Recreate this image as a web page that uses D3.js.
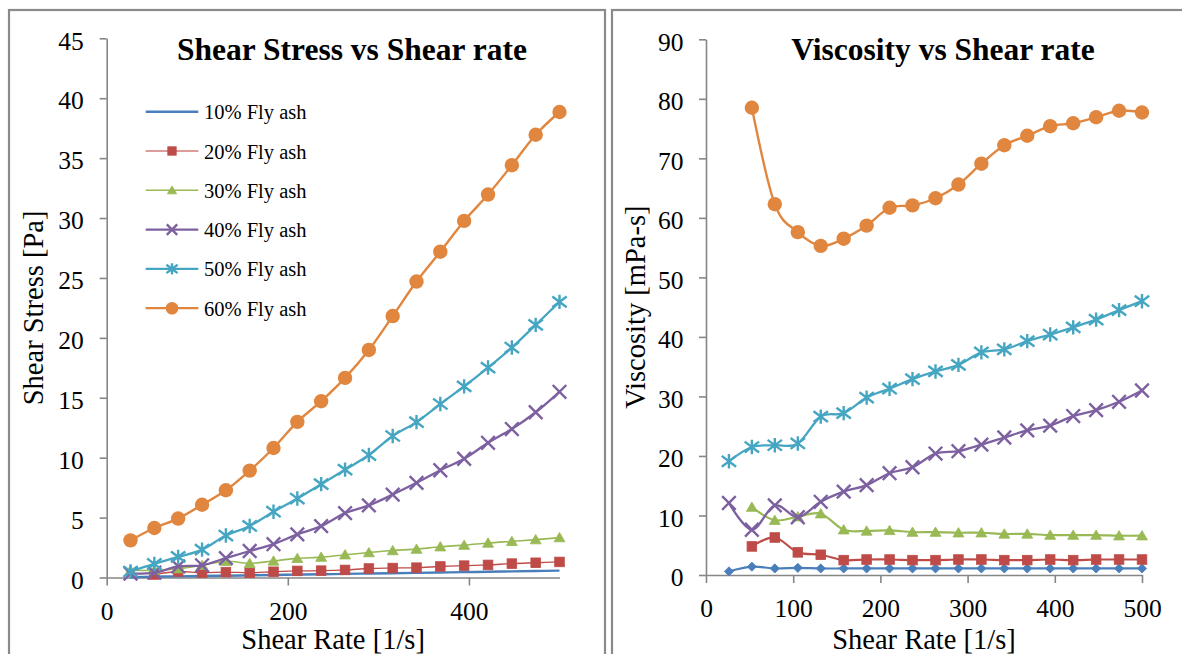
<!DOCTYPE html>
<html>
<head>
<meta charset="utf-8">
<script src="https://cdn.jsdelivr.net/npm/d3@7"></script>
<style>
  body { margin: 0; background: #fff; }
  svg { display: block; }
  svg text { font-family: "Liberation Serif", "Times New Roman", serif; }
</style>
</head>
<body>
<svg id="chart" width="1182" height="654"></svg>
<script>
// Shear rate steps [1/s]
const shearRate = [26.3, 52.6, 78.9, 105.3, 131.6, 157.9, 184.2, 210.5, 236.8, 263.2,
                   289.5, 315.8, 342.1, 368.4, 394.7, 421.1, 447.4, 473.7, 500];

const seriesNames = ["10% Fly ash", "20% Fly ash", "30% Fly ash", "40% Fly ash", "50% Fly ash", "60% Fly ash"];

// Shear stress [Pa]
const stress10 = [0.02, 0.07, 0.09, 0.13, 0.15, 0.18, 0.21, 0.24, 0.27, 0.30, 0.33, 0.36, 0.39, 0.42, 0.45, 0.48, 0.51, 0.54, 0.57];
const stress20 = [null, 0.25, 0.50, 0.40, 0.45, 0.39, 0.48, 0.55, 0.57, 0.63, 0.75, 0.79, 0.82, 0.92, 0.99, 1.05, 1.16, 1.23, 1.30];
const stress30 = [0.60, 0.60, 0.73, 1.02, 1.36, 1.18, 1.38, 1.60, 1.70, 1.90, 2.08, 2.25, 2.37, 2.57, 2.70, 2.88, 3.02, 3.16, 3.33];
const stress40 = [0.32, 0.40, 0.92, 1.02, 1.62, 2.21, 2.78, 3.60, 4.29, 5.37, 6.02, 6.92, 7.90, 8.95, 9.91, 11.24, 12.39, 13.79, 15.50];
const stress50 = [0.50, 1.13, 1.72, 2.33, 3.50, 4.30, 5.49, 6.59, 7.79, 9.00, 10.22, 11.81, 12.97, 14.48, 15.95, 17.52, 19.19, 21.08, 23.00];
const stress60 = [3.10, 4.13, 4.92, 6.07, 7.28, 8.92, 10.81, 12.99, 14.71, 16.66, 18.99, 21.82, 24.70, 27.19, 29.76, 31.96, 34.41, 36.95, 38.85];

// Viscosity [mPa-s]
const visc10 = [0.6, 1.4, 1.1, 1.2, 1.1, 1.1, 1.1, 1.1, 1.1, 1.1, 1.1, 1.1, 1.1, 1.1, 1.1, 1.1, 1.1, 1.1, 1.1];
const visc20 = [null, 4.8, 6.3, 3.8, 3.4, 2.5, 2.6, 2.6, 2.5, 2.5, 2.6, 2.6, 2.5, 2.5, 2.6, 2.5, 2.6, 2.6, 2.6];
const visc30 = [null, 11.4, 9.2, 9.8, 10.3, 7.6, 7.4, 7.5, 7.2, 7.2, 7.1, 7.1, 6.9, 6.9, 6.7, 6.7, 6.7, 6.6, 6.6];
const visc40 = [12.1, 7.6, 11.7, 9.7, 12.3, 14.0, 15.1, 17.1, 18.1, 20.4, 20.8, 21.9, 23.1, 24.3, 25.1, 26.7, 27.7, 29.1, 31.0];
const visc50 = [19.1, 21.5, 21.8, 22.1, 26.6, 27.2, 29.8, 31.3, 32.9, 34.2, 35.3, 37.4, 37.9, 39.3, 40.4, 41.6, 42.9, 44.5, 46.0];
const visc60 = [null, 78.5, 62.3, 57.6, 55.3, 56.5, 58.7, 61.7, 62.1, 63.3, 65.6, 69.1, 72.2, 73.8, 75.4, 75.9, 76.9, 78.0, 77.7];

// Axis ticks
const stressRateTicks = [0, 200, 400];
const stressTicks = [0, 5, 10, 15, 20, 25, 30, 35, 40, 45];
const viscRateTicks = [0, 100, 200, 300, 400, 500];
const viscTicks = [0, 10, 20, 30, 40, 50, 60, 70, 80, 90];

// Series appearance
const colors  = ["#4A7EBB", "#BE4B48", "#98B954", "#7D60A0", "#46A6C2", "#E0863F"];
const markers = ["diamond", "square", "triangle", "x", "star", "circle"];

const svg = d3.select("#chart");
const AXIS = "#868686";

// Panel frames
svg.append("rect").attr("x", 9).attr("y", 10).attr("width", 596).attr("height", 700)
  .attr("fill", "none").attr("stroke", "#8a8a8a").attr("stroke-width", 2.2);
svg.append("rect").attr("x", 612).attr("y", 10).attr("width", 620).attr("height", 700)
  .attr("fill", "none").attr("stroke", "#8a8a8a").attr("stroke-width", 2.2);

function drawMarker(g, type, cx, cy, s, color) {
  if (type === "diamond") {
    g.append("path").attr("d", `M${cx},${cy - s}L${cx + s},${cy}L${cx},${cy + s}L${cx - s},${cy}Z`)
      .attr("fill", color).attr("stroke", color).attr("stroke-width", 0.8);
  } else if (type === "square") {
    g.append("rect").attr("x", cx - s).attr("y", cy - s).attr("width", 2 * s).attr("height", 2 * s)
      .attr("fill", color).attr("stroke", color).attr("stroke-width", 0.8);
  } else if (type === "triangle") {
    const h = s * 1.8;
    g.append("path").attr("d", `M${cx},${cy - h * 0.55}L${cx + s * 1.05},${cy + h * 0.45}L${cx - s * 1.05},${cy + h * 0.45}Z`)
      .attr("fill", color).attr("stroke", color).attr("stroke-width", 0.8);
  } else if (type === "x") {
    g.append("path").attr("d", `M${cx - s},${cy - s}L${cx + s},${cy + s}M${cx - s},${cy + s}L${cx + s},${cy - s}`)
      .attr("stroke", color).attr("stroke-width", 2.4).attr("fill", "none");
  } else if (type === "star") {
    g.append("path").attr("d", `M${cx - s},${cy - s * 0.75}L${cx + s},${cy + s * 0.75}M${cx - s},${cy + s * 0.75}L${cx + s},${cy - s * 0.75}M${cx},${cy - s}L${cx},${cy + s}`)
      .attr("stroke", color).attr("stroke-width", 2.4).attr("fill", "none");
  } else if (type === "circle") {
    g.append("circle").attr("cx", cx).attr("cy", cy).attr("r", s).attr("fill", color);
  }
}

const markerSize = { diamond: 4.6, square: 4.8, triangle: 5.2, x: 6.8, star: 7.2, circle: 7.2 };
const legendMarkerSize = { square: 4.2, triangle: 4.4, x: 5.2, star: 5.6, circle: 6.3 };

function panel(cfg) {
  const x = d3.scaleLinear().domain([0, 500]).range(cfg.xRange);
  const y = d3.scaleLinear().domain(cfg.yDomain).range(cfg.yRange);
  const g = svg.append("g");

  // Y axis
  const yAxis = g.append("g").attr("transform", `translate(${cfg.xRange[0]},0)`)
    .call(d3.axisLeft(y).tickValues(cfg.yTicks).tickSize(7).tickSizeOuter(0).tickPadding(cfg.yPad).tickFormat(d3.format("d")));
  // X axis
  const xAxis = g.append("g").attr("transform", `translate(0,${cfg.yRange[0]})`)
    .call(d3.axisBottom(x).tickValues(cfg.xTicks).tickSize(8).tickSizeOuter(0).tickFormat(d3.format("d")));

  [yAxis, xAxis].forEach(a => {
    a.attr("font-family", null).attr("font-size", null);
    a.selectAll("path.domain").attr("stroke", AXIS).attr("stroke-width", 1.6);
    a.selectAll(".tick line").attr("stroke", AXIS).attr("stroke-width", 1.6);
    a.selectAll(".tick text").attr("fill", "#000").style("font-size", "25.5px");
  });
  yAxis.selectAll(".tick text").attr("dy", "0.42em");
  xAxis.selectAll(".tick text").attr("y", 42).attr("dy", 0);

  // Title
  g.append("text").attr("x", cfg.titleX).attr("y", 60).attr("text-anchor", "middle")
    .style("font-size", "31.5px").attr("font-weight", "bold").text(cfg.title);

  // Axis titles
  g.append("text").attr("x", (cfg.xRange[0] + cfg.xRange[1]) / 2).attr("y", 649)
    .attr("text-anchor", "middle").style("font-size", "28.5px").text("Shear Rate [1/s]");
  const yMid = (cfg.yRange[0] + cfg.yRange[1]) / 2;
  g.append("text").attr("transform", `translate(${cfg.yTitleX},${yMid}) rotate(-90)`)
    .attr("text-anchor", "middle").style("font-size", "28.5px").text(cfg.yTitle);

  // Series
  cfg.series.forEach((vals, i) => {
    const pts = shearRate.map((r, k) => [r, vals[k]]);
    const line = d3.line()
      .defined(d => d[1] != null)
      .x(d => x(d[0])).y(d => y(d[1]))
      .curve(d3.curveCardinal.tension(0));
    g.append("path").datum(pts).attr("d", line)
      .attr("fill", "none").attr("stroke", colors[i])
      .attr("stroke-width", cfg.lineWidths[i]).attr("stroke-linejoin", "round");
    if (cfg.showMarker[i]) {
      const mg = g.append("g");
      pts.filter(d => d[1] != null).forEach(d => {
        drawMarker(mg, markers[i], x(d[0]), y(d[1]), markerSize[markers[i]], colors[i]);
      });
    }
  });
  return g;
}

const stressPanel = panel({
  xRange: [106.7, 559.5], yRange: [577.5, 38.3], yDomain: [0, 45],
  xTicks: stressRateTicks, yTicks: stressTicks, yPad: 16,
  title: "Shear Stress vs Shear rate", titleX: 352,
  yTitle: "Shear Stress [Pa]", yTitleX: 43,
  series: [stress10, stress20, stress30, stress40, stress50, stress60],
  lineWidths: [2.4, 1.3, 1.6, 2.3, 2.3, 2.4],
  showMarker: [false, true, true, true, true, true]
});

panel({
  xRange: [706, 1142], yRange: [575, 39.3], yDomain: [0, 90],
  xTicks: viscRateTicks, yTicks: viscTicks, yPad: 15.5,
  title: "Viscosity vs Shear rate", titleX: 943,
  yTitle: "Viscosity [mPa-s]", yTitleX: 644.5,
  series: [visc10, visc20, visc30, visc40, visc50, visc60],
  lineWidths: [2.2, 2.2, 2.2, 2.3, 2.3, 2.4],
  showMarker: [true, true, true, true, true, true]
});

// Legend for the shear stress panel
const legend = stressPanel.append("g");
const legendWidths = [2.4, 1.3, 1.6, 2.2, 2.2, 2.2];
const legendLineColors = ["#4A7EBB", "#CF7B79", "#98B954", "#7D60A0", "#46A6C2", "#E0863F"];
seriesNames.forEach((name, i) => {
  const ly = 111.7 + i * 39.3;
  legend.append("line").attr("x1", 145.7).attr("x2", 198.3).attr("y1", ly).attr("y2", ly)
    .attr("stroke", legendLineColors[i]).attr("stroke-width", legendWidths[i]);
  if (i > 0) drawMarker(legend, markers[i], 172, ly, legendMarkerSize[markers[i]], colors[i]);
  legend.append("text").attr("x", 204).attr("y", ly + 7.5).style("font-size", "20.5px").text(name);
});
</script>
</body>
</html>
